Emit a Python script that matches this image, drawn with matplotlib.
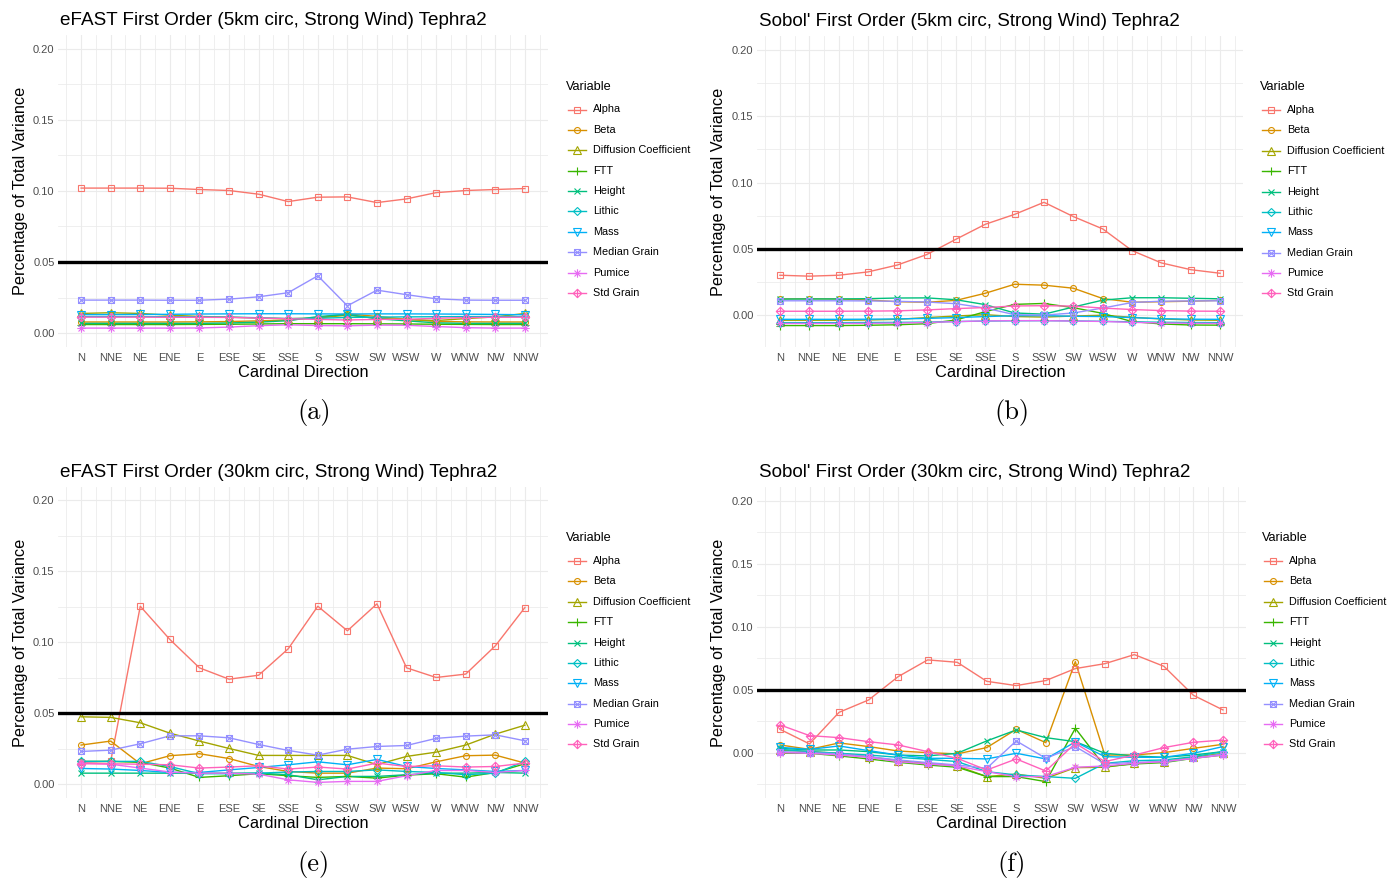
import numpy as np
import matplotlib.pyplot as plt
from matplotlib.lines import Line2D
from matplotlib.path import Path

W, H = 1395, 881

directions = ["N", "NNE", "NE", "ENE", "E", "ESE", "SE", "SSE",
              "S", "SSW", "SW", "WSW", "W", "WNW", "NW", "NNW"]
variables = ["Alpha", "Beta", "Diffusion Coefficient", "FTT", "Height",
             "Lithic", "Mass", "Median Grain", "Pumice", "Std Grain"]
colors = ["#F8766D", "#D89000", "#A3A500", "#39B600", "#00BF7D",
          "#00BFC4", "#00B0F6", "#9590FF", "#E76BF3", "#FF62BC"]

# rows follow the order of `variables`
efast_5km = [
    [0.1020, 0.1020, 0.1020, 0.1019, 0.1010, 0.1003, 0.0977, 0.0925, 0.0956, 0.0958, 0.0918, 0.0944, 0.0988, 0.1003, 0.1010, 0.1017],
    [0.0078, 0.0078, 0.0078, 0.0078, 0.0079, 0.0081, 0.0086, 0.0092, 0.0108, 0.0135, 0.0117, 0.0097, 0.0082, 0.0079, 0.0078, 0.0078],
    [0.0138, 0.0143, 0.0138, 0.0126, 0.0117, 0.0112, 0.0106, 0.0101, 0.0106, 0.0126, 0.0104, 0.0096, 0.0088, 0.0102, 0.0114, 0.0138],
    [0.0060, 0.0060, 0.0060, 0.0060, 0.0061, 0.0062, 0.0064, 0.0066, 0.0066, 0.0066, 0.0065, 0.0064, 0.0062, 0.0061, 0.0060, 0.0060],
    [0.0068, 0.0068, 0.0068, 0.0068, 0.0068, 0.0071, 0.0077, 0.0087, 0.0116, 0.0131, 0.0101, 0.0086, 0.0072, 0.0068, 0.0068, 0.0068],
    [0.0116, 0.0116, 0.0116, 0.0115, 0.0114, 0.0112, 0.0108, 0.0102, 0.0104, 0.0110, 0.0112, 0.0114, 0.0115, 0.0116, 0.0116, 0.0116],
    [0.0130, 0.0130, 0.0131, 0.0132, 0.0134, 0.0135, 0.0136, 0.0136, 0.0135, 0.0134, 0.0135, 0.0135, 0.0134, 0.0133, 0.0131, 0.0129],
    [0.0232, 0.0232, 0.0232, 0.0231, 0.0231, 0.0239, 0.0255, 0.0284, 0.0403, 0.0192, 0.0302, 0.0270, 0.0241, 0.0232, 0.0231, 0.0231],
    [0.0035, 0.0035, 0.0035, 0.0035, 0.0036, 0.0042, 0.0052, 0.0058, 0.0053, 0.0051, 0.0056, 0.0055, 0.0046, 0.0038, 0.0035, 0.0035],
    [0.0112, 0.0112, 0.0112, 0.0111, 0.0111, 0.0110, 0.0106, 0.0101, 0.0096, 0.0092, 0.0096, 0.0097, 0.0104, 0.0109, 0.0111, 0.0112],
]

sobol_5km = [
    [0.0300, 0.0293, 0.0300, 0.0325, 0.0377, 0.0456, 0.0572, 0.0685, 0.0760, 0.0851, 0.0743, 0.0650, 0.0486, 0.0393, 0.0342, 0.0315],
    [0.0121, 0.0122, 0.0121, 0.0113, 0.0100, 0.0096, 0.0110, 0.0164, 0.0232, 0.0225, 0.0202, 0.0124, 0.0096, 0.0100, 0.0104, 0.0110],
    [-0.0040, -0.0040, -0.0040, -0.0038, -0.0033, -0.0020, -0.0008, 0.0002, -0.0012, -0.0016, -0.0008, -0.0002, -0.0018, -0.0030, -0.0038, -0.0040],
    [-0.0080, -0.0080, -0.0080, -0.0078, -0.0074, -0.0066, -0.0038, 0.0025, 0.0080, 0.0087, 0.0055, 0.0012, -0.0050, -0.0068, -0.0076, -0.0077],
    [0.0120, 0.0121, 0.0121, 0.0123, 0.0128, 0.0129, 0.0115, 0.0078, 0.0015, 0.0006, 0.0060, 0.0112, 0.0130, 0.0130, 0.0126, 0.0122],
    [-0.0058, -0.0058, -0.0058, -0.0057, -0.0056, -0.0054, -0.0050, -0.0046, -0.0044, -0.0043, -0.0045, -0.0048, -0.0052, -0.0055, -0.0057, -0.0058],
    [-0.0033, -0.0033, -0.0033, -0.0032, -0.0030, -0.0026, -0.0020, -0.0012, -0.0006, -0.0005, -0.0010, -0.0012, -0.0020, -0.0028, -0.0032, -0.0033],
    [0.0107, 0.0107, 0.0107, 0.0106, 0.0103, 0.0098, 0.0085, 0.0052, 0.0002, -0.0001, 0.0015, 0.0052, 0.0094, 0.0104, 0.0106, 0.0107],
    [-0.0064, -0.0064, -0.0064, -0.0063, -0.0061, -0.0057, -0.0050, -0.0045, -0.0043, -0.0043, -0.0046, -0.0049, -0.0056, -0.0060, -0.0063, -0.0064],
    [0.0028, 0.0028, 0.0028, 0.0029, 0.0031, 0.0038, 0.0048, 0.0056, 0.0068, 0.0070, 0.0067, 0.0052, 0.0041, 0.0033, 0.0029, 0.0028],
]

efast_30km = [
    [0.0153, 0.0160, 0.1253, 0.1019, 0.0819, 0.0739, 0.0767, 0.0953, 0.1253, 0.1080, 0.1270, 0.0819, 0.0751, 0.0775, 0.0974, 0.1244],
    [0.0275, 0.0303, 0.0143, 0.0200, 0.0214, 0.0180, 0.0124, 0.0089, 0.0077, 0.0077, 0.0113, 0.0108, 0.0157, 0.0200, 0.0204, 0.0148],
    [0.0474, 0.0470, 0.0432, 0.0359, 0.0303, 0.0251, 0.0202, 0.0202, 0.0202, 0.0202, 0.0137, 0.0195, 0.0225, 0.0275, 0.0352, 0.0415],
    [0.0160, 0.0160, 0.0153, 0.0113, 0.0047, 0.0059, 0.0073, 0.0059, 0.0047, 0.0054, 0.0042, 0.0063, 0.0073, 0.0049, 0.0082, 0.0143],
    [0.0077, 0.0077, 0.0077, 0.0077, 0.0077, 0.0077, 0.0077, 0.0066, 0.0030, 0.0054, 0.0054, 0.0066, 0.0077, 0.0077, 0.0082, 0.0077],
    [0.0160, 0.0160, 0.0160, 0.0124, 0.0073, 0.0073, 0.0077, 0.0085, 0.0089, 0.0089, 0.0100, 0.0089, 0.0082, 0.0066, 0.0077, 0.0160],
    [0.0110, 0.0106, 0.0096, 0.0082, 0.0082, 0.0100, 0.0117, 0.0136, 0.0157, 0.0136, 0.0174, 0.0124, 0.0110, 0.0100, 0.0089, 0.0096],
    [0.0230, 0.0239, 0.0284, 0.0340, 0.0340, 0.0326, 0.0279, 0.0237, 0.0204, 0.0246, 0.0265, 0.0272, 0.0322, 0.0338, 0.0347, 0.0305],
    [0.0148, 0.0140, 0.0113, 0.0085, 0.0077, 0.0077, 0.0070, 0.0030, 0.0012, 0.0019, 0.0019, 0.0059, 0.0096, 0.0096, 0.0082, 0.0096],
    [0.0143, 0.0143, 0.0140, 0.0136, 0.0113, 0.0120, 0.0129, 0.0106, 0.0120, 0.0106, 0.0148, 0.0124, 0.0129, 0.0120, 0.0124, 0.0148],
]

sobol_30km = [
    [0.0185, 0.0069, 0.0320, 0.0418, 0.0603, 0.0736, 0.0717, 0.0566, 0.0532, 0.0572, 0.0667, 0.0706, 0.0778, 0.0685, 0.0455, 0.0339],
    [0.0061, 0.0026, 0.0077, 0.0048, 0.0013, 0.0000, -0.0010, 0.0040, 0.0185, 0.0079, 0.0722, -0.0019, -0.0019, 0.0000, 0.0034, 0.0066],
    [0.0020, 0.0008, -0.0005, -0.0032, -0.0064, -0.0085, -0.0106, -0.0190, -0.0170, -0.0204, -0.0119, -0.0116, -0.0085, -0.0071, -0.0037, -0.0005],
    [-0.0005, -0.0005, -0.0026, -0.0050, -0.0077, -0.0098, -0.0116, -0.0190, -0.0190, -0.0230, 0.0193, -0.0111, -0.0090, -0.0079, -0.0045, -0.0019],
    [0.0034, 0.0021, 0.0021, 0.0008, -0.0019, -0.0026, -0.0005, 0.0093, 0.0180, 0.0119, 0.0087, -0.0005, -0.0026, -0.0037, -0.0019, 0.0008],
    [0.0026, 0.0008, -0.0005, -0.0019, -0.0037, -0.0053, -0.0071, -0.0151, -0.0177, -0.0190, -0.0204, -0.0085, -0.0064, -0.0058, -0.0032, 0.0008],
    [0.0042, 0.0026, 0.0053, 0.0016, -0.0019, -0.0045, -0.0045, -0.0050, -0.0005, -0.0050, 0.0085, -0.0032, -0.0037, -0.0037, -0.0005, 0.0048],
    [0.0008, 0.0000, -0.0010, -0.0032, -0.0058, -0.0079, -0.0098, -0.0124, 0.0093, -0.0045, 0.0048, -0.0090, -0.0077, -0.0071, -0.0045, -0.0010],
    [0.0000, -0.0005, -0.0019, -0.0037, -0.0071, -0.0090, -0.0106, -0.0151, -0.0190, -0.0190, -0.0116, -0.0106, -0.0085, -0.0071, -0.0045, -0.0019],
    [0.0220, 0.0135, 0.0119, 0.0087, 0.0061, 0.0008, -0.0045, -0.0138, -0.0050, -0.0146, 0.0074, -0.0071, -0.0019, 0.0040, 0.0082, 0.0100],
]

threshold = 0.05

# R point shapes 7, 8 and 9 built as open paths
M, L, C = Path.MOVETO, Path.LINETO, Path.CLOSEPOLY
square_x = Path([(-1, -1), (1, -1), (1, 1), (-1, 1), (-1, -1), (-1, -1), (1, 1), (-1, 1), (1, -1)],
                [M, L, L, L, C, M, L, M, L])
r2 = np.sqrt(2)
asterisk = Path([(-r2, 0), (r2, 0), (0, -r2), (0, r2), (-1, -1), (1, 1), (-1, 1), (1, -1)],
                [M, L, M, L, M, L, M, L])
diamond_plus = Path([(0, -1), (1, 0), (0, 1), (-1, 0), (0, -1), (-1, 0), (1, 0), (0, -1), (0, 1)],
                    [M, L, L, L, C, M, L, M, L])
shapes = [("s", 1.0), ("o", 1.0), ("^", 1.25), ("+", 1.41), ("x", 1.0),
          ("D", 1.0), ("v", 1.25), (square_x, 1.0), (asterisk, 1.41), (diamond_plus, 1.41)]
MS = 4.3

plt.rcParams["font.family"] = ["Liberation Sans", "DejaVu Sans"]
fig = plt.figure(figsize=(W / 100, H / 100), dpi=100)


def fx(px):
    return px / W


def fy(py):
    return 1 - py / H


def draw_panel(left, top, width, height, ylim, title, values, tag, tag_xy, leg_x, leg_y):
    ax = fig.add_axes([fx(left), fy(top + height), width / W, height / H])
    x = np.arange(len(directions))
    for i, var in enumerate(variables):
        ax.plot(x, values[i], color=colors[i], lw=1.0, zorder=2)
    for i, var in enumerate(variables):
        mk, scale = shapes[i]
        ax.plot(x, values[i], ls="none", marker=mk, ms=MS * scale, mfc="none",
                mec=colors[i], mew=0.8, zorder=3)
    ax.axhline(threshold, color="black", lw=2.4, zorder=4)

    ax.set_xlim(-0.78, 15.78)
    ax.set_ylim(*ylim)
    ax.set_xticks(x, directions)
    ax.set_xticks(np.arange(-0.5, 16, 1), minor=True)
    ax.set_yticks([0, 0.05, 0.10, 0.15, 0.20], ["0.00", "0.05", "0.10", "0.15", "0.20"])
    minor_y = [v for v in np.arange(-0.025, 0.21, 0.05) if ylim[0] <= v <= ylim[1]]
    ax.set_yticks(minor_y, minor=True)
    ax.grid(which="major", color="#EBEBEB", lw=0.8)
    ax.grid(which="minor", color="#EBEBEB", lw=0.55)
    ax.set_axisbelow(True)
    for s in ax.spines.values():
        s.set_visible(False)
    ax.tick_params(which="both", length=0, labelsize=8, labelcolor="#4D4D4D")
    ax.tick_params(axis="x", pad=4.5)
    ax.tick_params(axis="y", pad=2.5)

    ax.set_xlabel("Cardinal Direction", fontsize=11.8)
    ax.xaxis.set_label_coords(0.5, -25 / height)
    ax.xaxis.label.set_va("center")
    ax.set_ylabel("Percentage of Total Variance", fontsize=11.7)
    ax.yaxis.set_label_coords(-38 / width, 0.5)
    ax.yaxis.label.set_va("center")
    ax.text(0.004, 1 + 14.5 / height, title, transform=ax.transAxes,
            fontsize=13.6, ha="left", va="center")

    # legend
    fig.text(fx(leg_x), fy(leg_y), "Variable", fontsize=9.2, ha="left", va="center")
    for i, var in enumerate(variables):
        yy = leg_y + 23 + 20.38 * i
        fig.add_artist(Line2D([fx(leg_x + 2), fx(leg_x + 20)], [fy(yy), fy(yy)],
                              color=colors[i], lw=1.0, transform=fig.transFigure))
        mk, scale = shapes[i]
        fig.add_artist(Line2D([fx(leg_x + 11)], [fy(yy)], ls="none", marker=mk,
                              ms=MS * scale, mfc="none", mec=colors[i], mew=0.8,
                              transform=fig.transFigure))
        fig.text(fx(leg_x + 27), fy(yy), var, fontsize=7.8, ha="left", va="center")

    fig.text(fx(tag_xy[0]), fy(tag_xy[1]), tag, fontsize=19, family="cmr10",
             ha="center", va="center")
    return ax


draw_panel(58, 35, 490, 312, (-0.0098, 0.2097),
           "eFAST First Order (5km circ, Strong Wind) Tephra2", efast_5km,
           "(a)", (314, 413), 566, 86.5)
draw_panel(757, 36, 486, 311, (-0.0242, 0.2107),
           "Sobol' First Order (5km circ, Strong Wind) Tephra2", sobol_5km,
           "(b)", (1012, 413), 1260, 87)
draw_panel(58, 487, 490, 311, (-0.0098, 0.2093),
           "eFAST First Order (30km circ, Strong Wind) Tephra2", efast_30km,
           "(e)", (314, 865), 566, 538)
draw_panel(757, 487, 489, 311, (-0.036, 0.2108),
           "Sobol' First Order (30km circ, Strong Wind) Tephra2", sobol_30km,
           "(f)", (1012, 865), 1262, 538)

fig.savefig("out.png", dpi=100, facecolor="white")
